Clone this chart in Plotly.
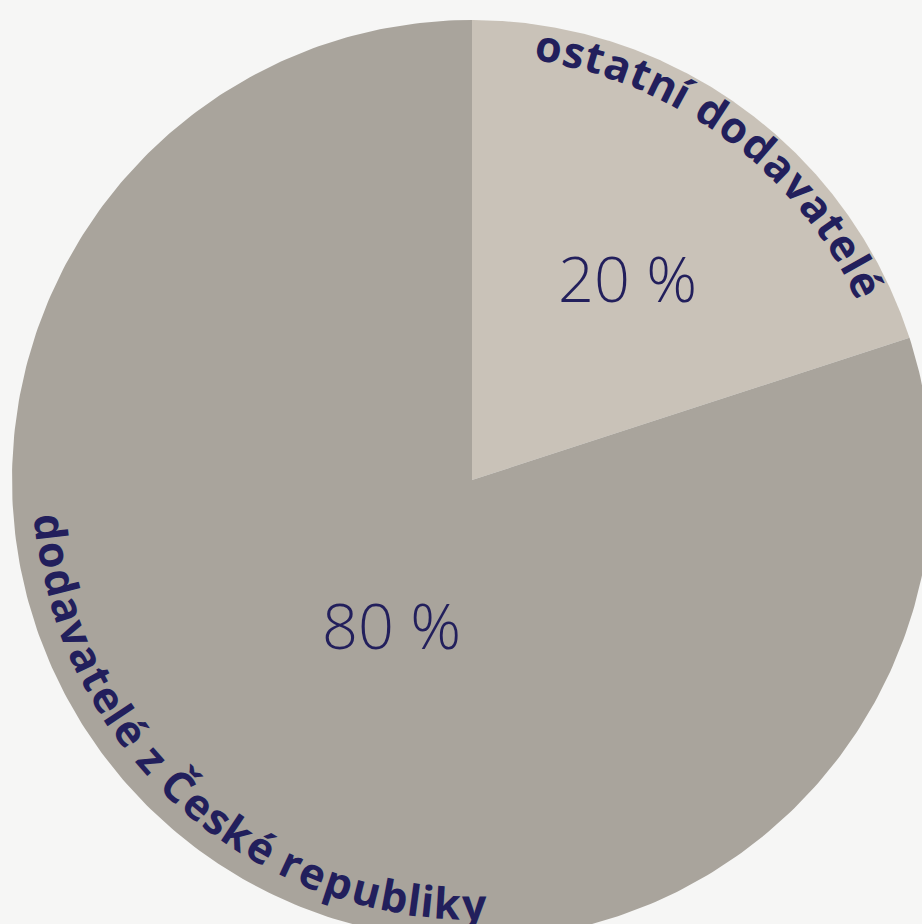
import numpy as np
import plotly.graph_objects as go

# ---- data ----
categories = ["ostatní dodavatelé", "dodavatelé z České republiky"]
values = [20, 80]
pct_labels = ["20 %", "80 %"]

# ---- style ----
W, H = 922, 924
CX, CY, R = 472, 480, 460
slice_colors = ["#c9c2b8", "#a9a49c"]
bg_color = "#f6f6f5"
navy = "#221f5c"
label_size = 43
pct_size = 63

# curved-label geometry: (start angle, end angle, radius of text centre, orientation)
label_arcs = [(8.2, 65.2, 441, "out"), (265.5, 178.0, 423, "in")]
# percent label placement: (radius fraction, angle shift from slice middle)
pct_place = [(0.555, 1.5), (0.36, -7.0)]

# approximate advance widths (em) of a bold humanist sans
adv = {"a": .596, "b": .627, "c": .514, "d": .627, "e": .592, "é": .592, "i": .289,
       "í": .289, "k": .604, "l": .289, "n": .638, "o": .608, "p": .627, "r": .434,
       "s": .493, "t": .42, "u": .638, "v": .565, "y": .565, "z": .486, " ": .26,
       "Č": .621, "C": .621}


def pt(phi_deg, r):
    p = np.radians(phi_deg)
    return CX + r * np.sin(p), CY - r * np.cos(p)


fig = go.Figure()

fracs = np.array(values, dtype=float) / sum(values)
starts = np.concatenate([[0.0], np.cumsum(fracs)[:-1]]) * 360
spans = fracs * 360

for cat, st, sp, col in zip(categories, starts, spans, slice_colors):
    phis = np.linspace(st, st + sp, 400)
    xs, ys = pt(phis, R)
    xs = np.concatenate([[CX], xs, [CX]])
    ys = np.concatenate([[CY], ys, [CY]])
    fig.add_trace(go.Scatter(x=xs, y=ys, fill="toself", fillcolor=col, mode="lines",
                             line=dict(width=0, color=col), hoverinfo="skip",
                             name=cat, showlegend=False))

annotations = []
# curved category labels
for cat, (a0, a1, rr, orient) in zip(categories, label_arcs):
    ws = [adv.get(ch, .6) for ch in cat]
    total = sum(ws)
    cum = 0.0
    for ch, w in zip(cat, ws):
        f = (cum + w / 2) / total
        cum += w
        if ch == " ":
            continue
        phi = a0 + (a1 - a0) * f
        x, y = pt(phi, rr)
        ang = phi if orient == "out" else phi - 180
        annotations.append(dict(x=x, y=y, xref="x", yref="y", text=ch, showarrow=False,
                                textangle=ang, xanchor="center", yanchor="middle",
                                font=dict(family="Open Sans", size=label_size,
                                          color=navy, weight="bold")))

# percent labels
for lab, st, sp, (rf, shift) in zip(pct_labels, starts, spans, pct_place):
    x, y = pt(st + sp / 2 + shift, rf * R)
    annotations.append(dict(x=x, y=y, xref="x", yref="y", text=lab, showarrow=False,
                            xanchor="center", yanchor="middle",
                            font=dict(family="Open Sans", size=pct_size, color=navy,
                                      weight=300)))

fig.update_layout(
    width=W, height=H, margin=dict(l=0, r=0, t=0, b=0),
    paper_bgcolor=bg_color, plot_bgcolor=bg_color,
    xaxis=dict(range=[0, W], visible=False, fixedrange=True),
    yaxis=dict(range=[H, 0], visible=False, fixedrange=True),
    annotations=annotations, showlegend=False,
)
fig.write_html("out.html", config={"displayModeBar": False},
               post_script="document.body.style.margin='0';document.body.style.overflow='hidden';")
